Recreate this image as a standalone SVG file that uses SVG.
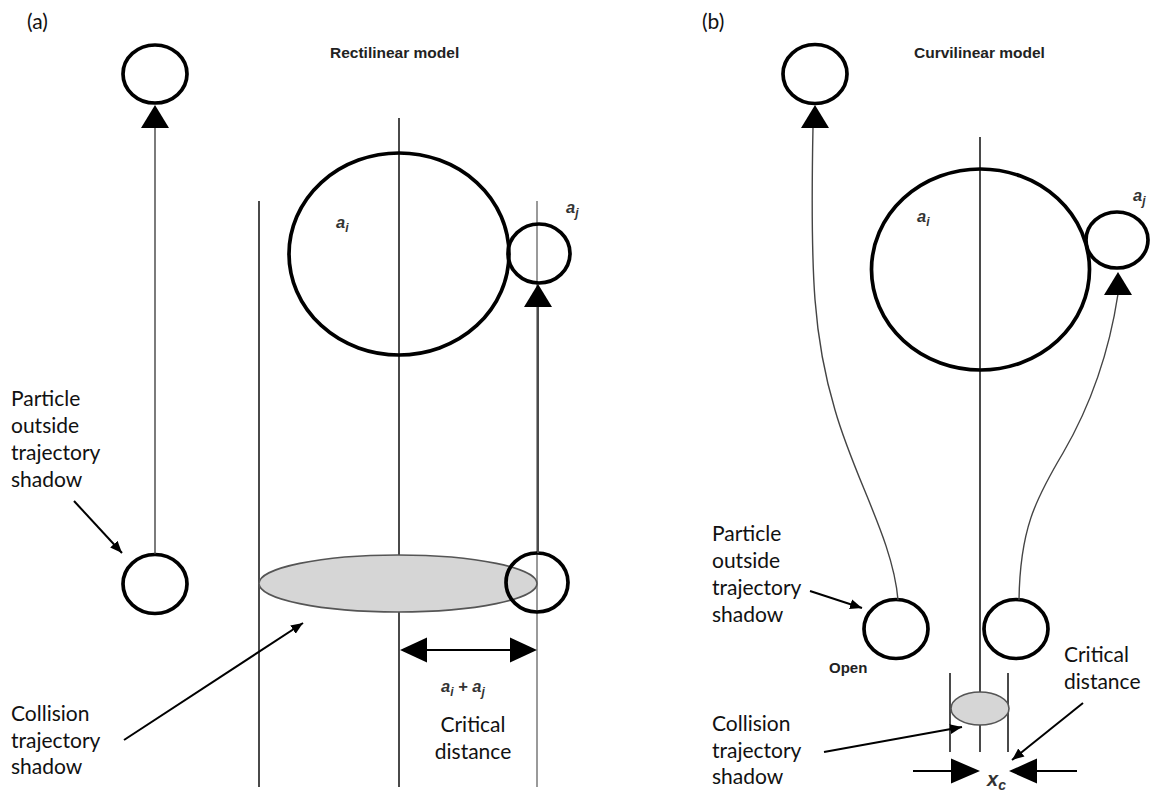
<svg xmlns="http://www.w3.org/2000/svg" width="1156" height="791" viewBox="0 0 1156 791">
<style>
.lbl{font-family:Lato,"Liberation Sans",sans-serif;font-size:21px;fill:#111}
.title{font-family:"Liberation Sans",Arial,sans-serif;font-size:15.5px;font-weight:bold;fill:#222}
.sym{font-family:"Liberation Sans",Arial,sans-serif;font-style:italic;font-weight:bold;font-size:16.5px;fill:#333}
.sub{font-size:12px}
.p{fill:none;stroke:#000;stroke-width:3.7}
.guide{stroke:#4a4a4a;stroke-width:2;fill:none}
.guide-l{stroke:#9a9a9a;stroke-width:2;fill:none}
.traj{stroke:#444;stroke-width:1.4;fill:none}
.call{stroke:#000;stroke-width:2;fill:none;marker-end:url(#ah)}
.shade{fill:#d6d6d6;stroke:#555;stroke-width:1.6}
.head{fill:#000}
</style>
<defs>
<marker id="ah" markerUnits="userSpaceOnUse" markerWidth="14" markerHeight="12" refX="12" refY="6" orient="auto">
<path d="M0,1 L12,6 L0,11 z" fill="#000"/>
</marker>
<path id="hUp" d="M0,0 L-14,23 L14,23 z"/>
</defs>
<rect width="1156" height="791" fill="#fff"/>

<g id="panel-a">
<text class="lbl" x="27" y="29">(a)</text>
<text class="title" x="330" y="58">Rectilinear model</text>
<g id="a-guides">
<line class="guide" x1="259" y1="201" x2="259" y2="787"/>
<line class="guide" x1="399" y1="118" x2="399" y2="787"/>
<line class="guide-l" x1="537" y1="201" x2="537" y2="787"/>
</g>
<g id="a-shadow"><ellipse class="shade" cx="398" cy="583.5" rx="139" ry="28.5"/></g>
<g id="a-big"><ellipse class="p" cx="399" cy="254" rx="110" ry="101"/>
<text class="sym" x="336" y="228">a<tspan class="sub" dy="4">i</tspan></text></g>
<g id="a-small"><ellipse class="p" cx="539" cy="253.5" rx="31" ry="29.5"/>
<text class="sym" x="566" y="213">a<tspan class="sub" dy="4">j</tspan></text></g>
<g id="a-top"><ellipse class="p" cx="155" cy="74" rx="32" ry="29"/></g>
<g id="a-bottom-left"><ellipse class="p" cx="155" cy="584" rx="32" ry="29.5"/></g>
<g id="a-bottom-right"><ellipse class="p" cx="537" cy="582.5" rx="31" ry="29.5"/></g>
<g id="a-connectors">
<line class="traj" x1="155" y1="554" x2="155" y2="127"/>
<use href="#hUp" class="head" x="155" y="105"/>
<line class="guide" x1="538" y1="553" x2="538" y2="306"/>
<use href="#hUp" class="head" x="538" y="284"/>
<line stroke="#000" stroke-width="2" x1="420" y1="650" x2="518" y2="650"/>
<path class="head" d="M400,650 L427,637.5 L427,662.5 z"/>
<path class="head" d="M537,650 L510,637.5 L510,662.5 z"/>
<line class="call" x1="74" y1="501" x2="122" y2="553"/>
<line class="call" x1="124" y1="740" x2="303" y2="623"/>
</g>
<text class="sym" x="441" y="692">a<tspan class="sub" dy="4">i</tspan><tspan dy="-4"> + a</tspan><tspan class="sub" dy="4">j</tspan></text>
<text class="lbl" x="473" y="732" text-anchor="middle">Critical</text>
<text class="lbl" x="473" y="759" text-anchor="middle">distance</text>
<text class="lbl" x="11" y="406">Particle</text>
<text class="lbl" x="11" y="433">outside</text>
<text class="lbl" x="11" y="460">trajectory</text>
<text class="lbl" x="11" y="487">shadow</text>
<text class="lbl" x="11" y="721">Collision</text>
<text class="lbl" x="11" y="748">trajectory</text>
<text class="lbl" x="11" y="774">shadow</text>
</g>

<g id="panel-b">
<text class="lbl" x="702" y="29">(b)</text>
<text class="title" x="914" y="58">Curvilinear model</text>
<g id="b-guides">
<line class="guide" x1="980" y1="137" x2="980" y2="752"/>
<line class="guide" x1="950" y1="673" x2="950" y2="752"/>
<line class="guide" x1="1008" y1="673" x2="1008" y2="752"/>
</g>
<g id="b-shadow"><ellipse class="shade" cx="980" cy="708.5" rx="29" ry="16.5"/></g>
<g id="b-big"><ellipse class="p" cx="980.5" cy="269.5" rx="109" ry="100.5"/>
<text class="sym" x="917" y="222">a<tspan class="sub" dy="4">i</tspan></text></g>
<g id="b-small"><ellipse class="p" cx="1117" cy="240" rx="31" ry="28"/>
<text class="sym" x="1133" y="201">a<tspan class="sub" dy="4">j</tspan></text></g>
<g id="b-top"><ellipse class="p" cx="815" cy="74" rx="32" ry="29.5"/></g>
<g id="b-bottom-left"><ellipse class="p" cx="896" cy="629" rx="32" ry="29.5"/></g>
<g id="b-bottom-right"><ellipse class="p" cx="1016" cy="629" rx="32" ry="29.5"/></g>
<g id="b-connectors">
<path class="traj" d="M813,127 C810,280 814,340 835,410 C855,480 893,540 898,600"/>
<use href="#hUp" class="head" x="815" y="105"/>
<path class="traj" d="M1118,294 C1108,360 1088,410 1063,453 C1035,500 1020,530 1019,600"/>
<use href="#hUp" class="head" x="1118" y="272"/>
<line stroke="#000" stroke-width="2" x1="913" y1="771" x2="955" y2="771"/>
<path class="head" d="M980,771 L951,758.5 L951,783.5 z"/>
<line stroke="#000" stroke-width="2" x1="1033" y1="771" x2="1077" y2="771"/>
<path class="head" d="M1009,771 L1037,758.5 L1037,783.5 z"/>
<line class="call" x1="810" y1="591" x2="862" y2="608"/>
<line class="call" x1="824" y1="752" x2="962" y2="727"/>
<line class="call" x1="1083" y1="703" x2="1012" y2="760"/>
</g>
<text class="title" x="829" y="673" style="font-size:15px">Open</text>
<text class="sym" x="987" y="786" style="font-size:20px">x<tspan class="sub" dy="4" style="font-size:14px">c</tspan></text>
<text class="lbl" x="712" y="541">Particle</text>
<text class="lbl" x="712" y="568">outside</text>
<text class="lbl" x="712" y="595">trajectory</text>
<text class="lbl" x="712" y="622">shadow</text>
<text class="lbl" x="712" y="731">Collision</text>
<text class="lbl" x="712" y="758">trajectory</text>
<text class="lbl" x="712" y="784">shadow</text>
<text class="lbl" x="1064" y="662">Critical</text>
<text class="lbl" x="1064" y="689">distance</text>
</g>
</svg>
